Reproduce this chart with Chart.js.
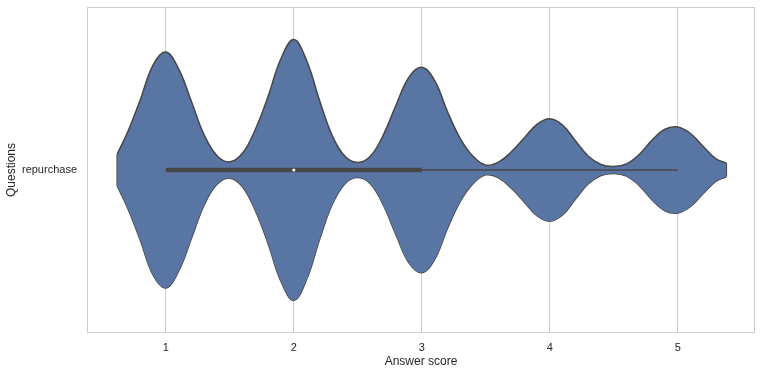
<!DOCTYPE html>
<html>
<head>
<meta charset="utf-8">
<script src="https://cdn.jsdelivr.net/npm/chart.js@4.4.1/dist/chart.umd.min.js"></script>
<style>
  html, body { margin: 0; padding: 0; background: #fff; }
  #wrap { width: 762px; height: 374px; }
</style>
</head>
<body>
<div id="wrap"><canvas id="violin" width="762" height="374"></canvas></div>
<script>
// category and axis labels
const questions = ['repurchase'];
const scoreTicks = [1, 2, 3, 4, 5];

// KDE outline of the violin (half width, in category units)
const scoreGrid = [0.62, 0.7, 0.8, 0.9, 1.0, 1.1, 1.2, 1.3, 1.4, 1.5,
  1.6, 1.7, 1.8, 1.9, 2.0, 2.1, 2.2, 2.3, 2.4, 2.5,
  2.6, 2.7, 2.8, 2.9, 3.0, 3.1, 3.2, 3.3, 3.4, 3.5,
  3.6, 3.7, 3.8, 3.9, 4.0, 4.1, 4.2, 4.3, 4.4, 4.5,
  4.6, 4.7, 4.8, 4.9, 5.0, 5.1, 5.2, 5.3, 5.38];
const repurchaseDensity = [0.049, 0.115, 0.215, 0.322, 0.362, 0.31, 0.21, 0.107, 0.044, 0.025,
  0.052, 0.125, 0.227, 0.342, 0.4, 0.336, 0.215, 0.106, 0.042, 0.023,
  0.043, 0.108, 0.2, 0.285, 0.315, 0.275, 0.18, 0.097, 0.042, 0.015,
  0.024, 0.056, 0.098, 0.14, 0.157, 0.138, 0.09, 0.043, 0.017, 0.011,
  0.019, 0.048, 0.092, 0.125, 0.132, 0.112, 0.072, 0.034, 0.021];

// inner box: q1, median, q3 and whisker ends
const quartiles = [1, 2, 3];
const whiskers = [1, 5];

const EDGE = '#474747';
const FILL = '#5875a4';
const GRID = '#cccccc';
const TEXT = '#262626';
const FONT = "'Liberation Sans', Arial, sans-serif";

const upper = scoreGrid.map((x, i) => ({ x: x, y: repurchaseDensity[i] }));
const lower = scoreGrid.map((x, i) => ({ x: x, y: -repurchaseDensity[i] }));
const last = scoreGrid.length - 1;

// light frame round the plot area (seaborn whitegrid spines)
const framePlugin = {
  id: 'frame',
  beforeDatasetsDraw(chart) {
    const a = chart.chartArea;
    const ctx = chart.ctx;
    ctx.save();
    ctx.strokeStyle = GRID;
    ctx.lineWidth = 1;
    ctx.strokeRect(Math.round(a.left) + 0.5, Math.round(a.top) + 0.5,
      Math.round(a.right - a.left) - 1, Math.round(a.bottom - a.top) - 1);
    ctx.restore();
  }
};

const lineStyle = { showLine: true, pointRadius: 0, pointHoverRadius: 0, borderColor: EDGE, fill: false };

new Chart(document.getElementById('violin'), {
  type: 'scatter',
  data: {
    datasets: [
      { label: 'median', data: [{ x: quartiles[1], y: 0 }], showLine: false,
        pointRadius: 1.6, pointBackgroundColor: '#ffffff', pointBorderWidth: 0, order: 0 },
      { ...lineStyle, label: 'iqr', data: [{ x: quartiles[0], y: 0 }, { x: quartiles[2], y: 0 }],
        borderWidth: 4.5, borderCapStyle: 'butt', order: 1 },
      { ...lineStyle, label: 'whisker', data: [{ x: whiskers[0], y: 0 }, { x: whiskers[1], y: 0 }],
        borderWidth: 1.5, order: 2 },
      { ...lineStyle, label: 'upper', data: upper, borderWidth: 1.5, tension: 0.4,
        fill: '+1', backgroundColor: FILL, order: 3 },
      { ...lineStyle, label: 'lower', data: lower, borderWidth: 1.5, tension: 0.4, order: 3 },
      { ...lineStyle, label: 'capL', data: [upper[0], lower[0]], borderWidth: 1.5, order: 3 },
      { ...lineStyle, label: 'capR', data: [upper[last], lower[last]], borderWidth: 1.5, order: 3 }
    ]
  },
  options: {
    responsive: false,
    animation: false,
    devicePixelRatio: 1,
    layout: { padding: { top: 7, right: 7, left: 0, bottom: 0 } },
    plugins: { legend: { display: false }, tooltip: { enabled: false } },
    scales: {
      x: {
        type: 'linear',
        min: 0.384,
        max: 5.604,
        afterFit: s => { s.height = 41; s.paddingLeft = 0; s.paddingRight = 0; },
        afterBuildTicks: s => { s.ticks = scoreTicks.map(v => ({ value: v })); },
        grid: { color: GRID, lineWidth: 1, drawTicks: false },
        border: { display: false },
        ticks: { padding: 8, color: TEXT, font: { family: FONT, size: 11 }, maxRotation: 0 },
        title: { display: true, text: 'Answer score', color: TEXT,
          font: { family: FONT, size: 12 }, padding: { top: 0, bottom: 5 } }
      },
      y: {
        type: 'linear',
        min: -0.5,
        max: 0.5,
        afterFit: s => { s.width = 87; s.paddingTop = 0; s.paddingBottom = 0; },
        afterBuildTicks: s => { s.ticks = [{ value: 0 }]; },
        grid: { display: false, drawTicks: false },
        border: { display: false },
        ticks: { padding: 10, color: TEXT, font: { family: FONT, size: 11 },
          callback: () => questions[0] },
        title: { display: true, text: 'Questions', color: TEXT,
          font: { family: FONT, size: 12 }, padding: { top: 4, bottom: 0 } }
      }
    }
  },
  plugins: [framePlugin]
});
</script>
</body>
</html>
